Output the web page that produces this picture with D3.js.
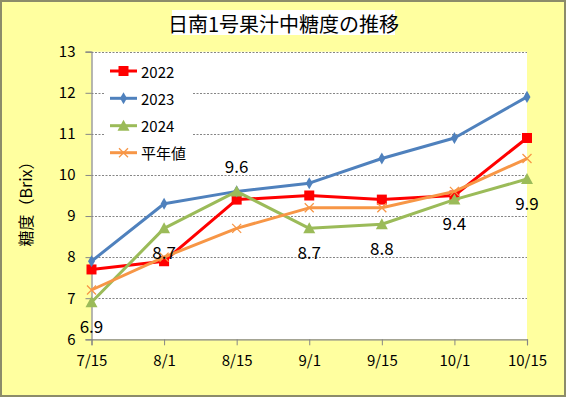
<!DOCTYPE html>
<html><head><meta charset="utf-8">
<script src="https://cdn.jsdelivr.net/npm/d3@7/dist/d3.min.js"></script>
<style>
html,body{margin:0;padding:0;background:#fff;}
svg{display:block;}
text{font-family:"Noto Sans CJK JP","Noto Sans",sans-serif;}
</style></head>
<body>
<script>
const categories = ["7/15","8/1","8/15","9/1","9/15","10/1","10/15"];
const seriesNames = ["2022","2023","2024","平年値"];
const v2022 = [7.7, 7.9, 9.4, 9.5, 9.4, 9.5, 10.9];
const v2023 = [7.9, 9.3, 9.6, 9.8, 10.4, 10.9, 11.9];
const v2024 = [6.9, 8.7, 9.6, 8.7, 8.8, 9.4, 9.9];
const vAvg  = [7.2, 8.0, 8.7, 9.2, 9.2, 9.6, 10.4];
const yTicks = [6,7,8,9,10,11,12,13];
const title = "日南1号果汁中糖度の推移";
const yTitle = "糖度（Brix）";

const W = 567, H = 398;
const plot = {l: 91.5, r: 527, t: 51.7, b: 339.3};
const colors = {"2022":"#FF0000","2023":"#4F81BD","2024":"#9BBB59","平年値":"#F79646"};
const seriesValues = {"2022":v2022,"2023":v2023,"2024":v2024,"平年値":vAvg};
const markers = {"2022":"square","2023":"diamond","2024":"triangle","平年値":"cross"};

const svg = d3.select("body").append("svg").attr("width", W).attr("height", H);
svg.append("rect").attr("x",1).attr("y",1).attr("width",W-3).attr("height",H-3)
  .attr("fill","#FFFF9F").attr("stroke","#8C8C6A").attr("stroke-width",2);

const x = d3.scalePoint().domain(categories).range([plot.l, plot.r]);
const y = d3.scaleLinear().domain([6,13]).range([plot.b, plot.t]);

svg.append("rect").attr("x",plot.l).attr("y",plot.t).attr("width",plot.r-plot.l).attr("height",plot.b-plot.t).attr("fill","#fff");

// gridlines
svg.append("g").selectAll("line").data(yTicks.filter(d=>d>6)).join("line")
  .attr("x1",plot.l).attr("x2",plot.r).attr("y1",d=>Math.round(y(d))+0.5).attr("y2",d=>Math.round(y(d))+0.5)
  .attr("stroke","#666").attr("stroke-width",0.8).attr("stroke-dasharray","2,1.5");

// axes
const yAxis = d3.axisLeft(y).tickValues(yTicks).tickSize(6).tickPadding(10).tickFormat(d3.format("d"));
const gy = svg.append("g").attr("transform",`translate(${plot.l},0)`).call(yAxis);
const xAxis = d3.axisBottom(x).tickSize(6).tickPadding(9);
const gx = svg.append("g").attr("transform",`translate(0,${plot.b})`).call(xAxis);
[gy,gx].forEach(g=>{
  g.select(".domain").attr("stroke","#868686").attr("stroke-width",1.2);
  g.selectAll(".tick line").attr("stroke","#868686");
  g.selectAll(".tick text").attr("font-size",15).attr("fill","#000")
    .style("font-family",'"Noto Sans CJK JP","Noto Sans",sans-serif');
});
gx.selectAll(".tick text").attr("dy","0.8em");

// legend background
const lg = svg.append("g");
lg.append("rect").attr("x",105).attr("y",58).attr("width",88).attr("height",108).attr("fill","#fff");

function drawMarker(g, type, cx, cy, color){
  if(type==="square"){
    g.append("rect").attr("x",cx-5).attr("y",cy-5).attr("width",10).attr("height",10).attr("fill",color);
  } else if(type==="diamond"){
    g.append("path").attr("d",d3.symbol(d3.symbolDiamond,42)()).attr("transform",`translate(${cx},${cy})`).attr("fill",color);
  } else if(type==="triangle"){
    g.append("path").attr("d",`M${cx},${cy-6}L${cx+6},${cy+5}L${cx-6},${cy+5}Z`).attr("fill",color);
  } else {
    g.append("path").attr("d",`M${cx-4.5},${cy-4.5}L${cx+4.5},${cy+4.5}M${cx-4.5},${cy+4.5}L${cx+4.5},${cy-4.5}`)
      .attr("stroke",color).attr("stroke-width",1.3).attr("fill","none");
  }
}

const line = d3.line().x((d,i)=>x(categories[i])).y(d=>y(d));
seriesNames.forEach(name=>{
  const g = svg.append("g");
  g.append("path").datum(seriesValues[name]).attr("d",line).attr("fill","none")
    .attr("stroke",colors[name]).attr("stroke-width",3).attr("stroke-linejoin","round");
  seriesValues[name].forEach((v,i)=>drawMarker(g, markers[name], x(categories[i]), y(v), colors[name]));
});

// data labels for 2024
const lbl = svg.append("g");
v2024.forEach((v,i)=>{
  const above = (i===2);
  lbl.append("text").attr("x",x(categories[i])).attr("y",y(v)+(above?-26:23))
    .attr("text-anchor","middle").attr("dominant-baseline","central")
    .attr("font-size",17).attr("fill","#000").text(d3.format(".1f")(v));
});

// legend
const legY = [71, 98.3, 125.7, 152.7];
seriesNames.forEach((name,i)=>{
  const g = lg.append("g");
  g.append("line").attr("x1",110).attr("x2",137).attr("y1",legY[i]).attr("y2",legY[i])
    .attr("stroke",colors[name]).attr("stroke-width",3);
  drawMarker(g, markers[name], 123.5, legY[i], colors[name]);
  g.append("text").attr("x",141).attr("y",legY[i]).attr("dominant-baseline","central")
    .attr("font-size",15).attr("fill","#000").text(name);
});

// title
const tg = svg.append("g");
tg.append("rect").attr("x",172).attr("y",10).attr("width",223).attr("height",25).attr("fill","#fff");
tg.append("text").attr("x",283.5).attr("y",23).attr("text-anchor","middle").attr("dominant-baseline","central")
  .attr("font-size",20).attr("fill","#000").text(title);

// y axis title
svg.append("text").attr("transform","translate(25,200) rotate(-90)").attr("text-anchor","middle")
  .attr("dominant-baseline","central").attr("font-size",16).attr("fill","#000").text(yTitle);
</script>
</body></html>
